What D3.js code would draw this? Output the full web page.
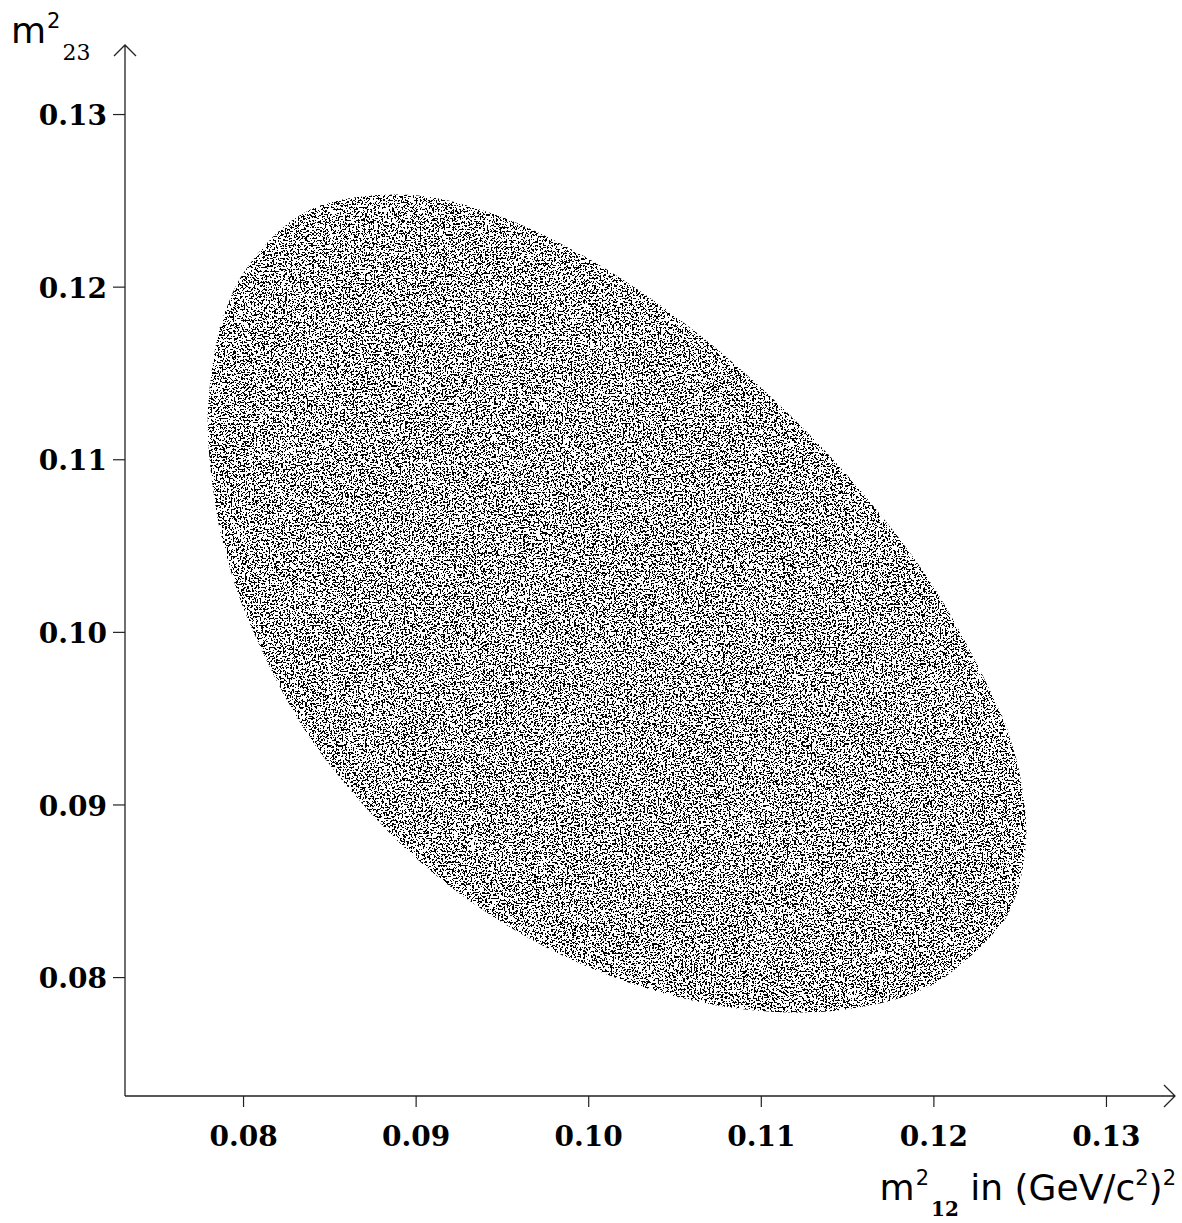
<!DOCTYPE html>
<html>
<head>
<meta charset="utf-8">
<script src="https://cdn.jsdelivr.net/npm/d3@7/dist/d3.min.js"></script>
<style>
  html, body { margin: 0; padding: 0; background: #fff; }
  svg { display: block; }
</style>
</head>
<body>
<svg id="chart" width="1182" height="1223"></svg>
<script>
// Tick values, (GeV/c^2)^2
const m12Ticks = [0.08, 0.09, 0.10, 0.11, 0.12, 0.13];
const m23Ticks = [0.08, 0.09, 0.10, 0.11, 0.12, 0.13];

// Kinematic boundary of the K -> 3 pi Dalitz region:
// upper edge left to right, then lower edge right to left
const edgeM12 = [0.077951, 0.0785, 0.0790, 0.0800, 0.0825, 0.0850, 0.0900, 0.0950,
                 0.1000, 0.1050, 0.1100, 0.1150, 0.1200, 0.1240, 0.1245, 0.1250, 0.125387,
                 0.1250, 0.1245, 0.1240, 0.1200, 0.1150, 0.1100, 0.1050, 0.1000,
                 0.0950, 0.0900, 0.0850, 0.0825, 0.0800, 0.0790, 0.0785];
const edgeM23 = [0.112126, 0.116990, 0.118641, 0.120759, 0.123574, 0.124869, 0.125296, 0.124028,
                 0.121629, 0.118318, 0.114163, 0.109072, 0.102620, 0.095076, 0.093642, 0.091775, 0.088409,
                 0.085429, 0.084061, 0.083128, 0.079584, 0.078132, 0.078040, 0.078886, 0.080579,
                 0.083174, 0.086908, 0.092335, 0.096130, 0.101445, 0.104563, 0.106714];

const svg = d3.select("#chart");
const x = d3.scaleLinear().domain([0.07316, 0.13400]).range([125, 1175]);
const y = d3.scaleLinear().domain([0.07311, 0.13400]).range([1096, 45]);
const fmt = d3.format(".2f");

// Speckle texture standing in for the phase-space event cloud
const defs = svg.append("defs");
const f = defs.append("filter")
  .attr("id", "speckle")
  .attr("filterUnits", "userSpaceOnUse")
  .attr("x", 150).attr("y", 150).attr("width", 950).attr("height", 900)
  .attr("color-interpolation-filters", "sRGB");
f.append("feTurbulence")
  .attr("type", "fractalNoise").attr("baseFrequency", 0.55)
  .attr("numOctaves", 2).attr("seed", 11).attr("result", "noise");
f.append("feColorMatrix").attr("in", "noise").attr("type", "matrix")
  .attr("values", "0 0 0 0 0  0 0 0 0 0  0 0 0 0 0  1 0 0 0 0").attr("result", "a");
f.append("feComponentTransfer").attr("in", "a").attr("result", "t")
  .append("feFuncA").attr("type", "discrete")
  .attr("tableValues", "0 0 0 0 0 0 0 0 0 0 0 1 1 1 1 1 1 1 1 1");
f.append("feComposite").attr("in", "t").attr("in2", "SourceAlpha").attr("operator", "in");

const region = d3.line()
  .x(i => x(edgeM12[i]))
  .y(i => y(edgeM23[i]))
  .curve(d3.curveCatmullRomClosed.alpha(0.5));

svg.append("path")
  .attr("d", region(d3.range(edgeM12.length)))
  .attr("fill", "#000")
  .attr("filter", "url(#speckle)");

// Axes
const tickFont = "'DejaVu Serif', serif";
const xAxis = svg.append("g")
  .attr("transform", "translate(0,1096)")
  .call(d3.axisBottom(x).tickValues(m12Ticks).tickFormat(fmt).tickSize(11).tickPadding(19));
const yAxis = svg.append("g")
  .attr("transform", "translate(125,0)")
  .call(d3.axisLeft(y).tickValues(m23Ticks).tickFormat(fmt).tickSize(12).tickPadding(6));

[xAxis, yAxis].forEach(g => {
  g.select(".domain").remove();
  g.selectAll(".tick line").attr("stroke", "#222").attr("stroke-width", 1.2);
  g.selectAll(".tick text")
    .attr("fill", "#000")
    .style("font-family", tickFont)
    .style("font-weight", "bold")
    .style("font-size", "28px");
});
yAxis.selectAll(".tick text").attr("dy", "0.38em");

// Axis lines with open arrow heads
function axisLine(d) {
  return svg.append("path").attr("d", d)
    .attr("stroke", "#222").attr("stroke-width", 1.3).attr("fill", "none");
}
axisLine("M125,1096 H1175 M1164,1085 L1175,1096 L1164,1107");
axisLine("M125,1096 V45 M114,56 L125,45 L136,56");

// Axis titles
const sans = "'DejaVu Sans', sans-serif";
const serif = "'DejaVu Serif', serif";

const yTitle = svg.append("text").attr("x", 11).attr("y", 43)
  .style("font-family", sans).style("font-size", "36px").attr("fill", "#000");
yTitle.append("tspan").text("m");
yTitle.append("tspan").attr("dy", -15).attr("dx", 1).style("font-size", "21px").text("2");
yTitle.append("tspan").attr("dy", 32).attr("dx", 2).style("font-family", serif)
  .style("font-size", "22px").text("23");

const xTitle = svg.append("text").attr("x", 1176).attr("y", 1200)
  .attr("text-anchor", "end")
  .style("font-family", sans).style("font-size", "36px").attr("fill", "#000");
xTitle.append("tspan").text("m");
xTitle.append("tspan").attr("dy", -15).attr("dx", 1).style("font-size", "21px").text("2");
xTitle.append("tspan").attr("dy", 31).attr("dx", 2).style("font-family", serif)
  .style("font-weight", "bold").style("font-size", "20px").text("12");
xTitle.append("tspan").attr("dy", -16).text(" in (GeV/c");
xTitle.append("tspan").attr("dy", -15).style("font-size", "21px").text("2");
xTitle.append("tspan").attr("dy", 15).text(")");
xTitle.append("tspan").attr("dy", -15).style("font-size", "21px").text("2");
</script>
</body>
</html>
